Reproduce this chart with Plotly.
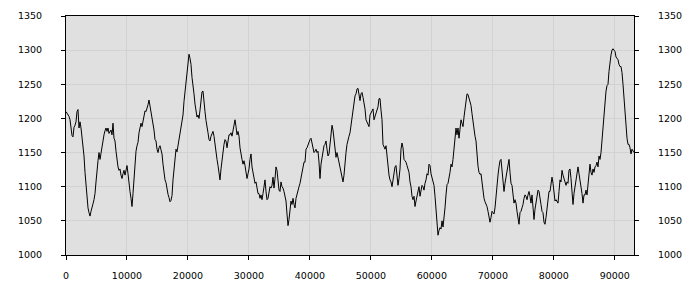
import plotly.graph_objects as go

SAMPLE_STEP = 164  # spacing between samples on the x axis

values = [
    1210, 1208, 1206, 1203, 1198, 1188, 1175, 1173, 1187, 1190, 1195, 1210, 1213, 1186, 1195, 1186,
    1174, 1162, 1145, 1121, 1100, 1088, 1069, 1062, 1057, 1064, 1068, 1075, 1081, 1090, 1107, 1131,
    1138, 1150, 1140, 1149, 1160, 1167, 1176, 1182, 1186, 1181, 1186, 1178, 1181, 1183, 1176, 1193,
    1171, 1167, 1152, 1138, 1129, 1124, 1126, 1117, 1112, 1119, 1124, 1117, 1126, 1131, 1119, 1102,
    1093, 1083, 1071, 1090, 1112, 1133, 1152, 1160, 1165, 1179, 1189, 1193, 1188, 1197, 1201, 1211,
    1210, 1214, 1220, 1227, 1219, 1211, 1198, 1191, 1183, 1169, 1167, 1155, 1150, 1157, 1160, 1154,
    1148, 1133, 1117, 1110, 1106, 1095, 1089, 1084, 1078, 1080, 1087, 1110, 1129, 1148, 1155, 1151,
    1160, 1170, 1181, 1190, 1199, 1205, 1225, 1240, 1255, 1274, 1286, 1294, 1288, 1279, 1260, 1250,
    1236, 1221, 1212, 1202, 1205, 1200, 1212, 1233, 1239, 1240, 1229, 1210, 1197, 1183,
    # segment 2
    1179, 1169, 1167, 1174, 1179, 1181, 1174, 1162, 1145, 1140, 1131, 1119, 1110, 1126, 1140, 1148,
    1162, 1169, 1167, 1157, 1167, 1176, 1176, 1179, 1174, 1181, 1186, 1198, 1188, 1176, 1181, 1174,
    1157, 1145, 1140, 1133, 1138, 1131, 1119, 1112, 1119, 1126, 1140, 1148, 1129, 1119, 1110, 1105,
    1107, 1100, 1090, 1090, 1083, 1088, 1081, 1090, 1102, 1110, 1093, 1081, 1083, 1090, 1100, 1098,
    1102, 1114, 1098, 1112, 1129, 1124, 1110, 1095, 1093, 1107, 1100, 1098, 1093, 1086, 1079, 1060,
    1043, 1052, 1064, 1079, 1074, 1083, 1074, 1069, 1083, 1090, 1095, 1100, 1105, 1112, 1124, 1131,
    1136, 1136, 1155, 1157, 1162, 1164, 1169, 1171, 1162, 1157, 1150, 1152, 1155, 1150, 1152, 1136,
    1112, 1133, 1145, 1157, 1160, 1162, 1167, 1155, 1145, 1148, 1164, 1186, 1190, 1183, 1169, 1150,
    1143, 1150, 1143, 1140, 1129, 1126, 1117, 1107, 1117, 1138, 1150, 1162, 1171, 1174,
    # segment 3
    1179, 1190, 1207, 1214, 1224, 1233, 1236, 1243, 1244, 1233, 1226, 1236, 1238, 1231, 1224, 1214,
    1198, 1195, 1193, 1188, 1205, 1208, 1211, 1214, 1198, 1202, 1207, 1212, 1217, 1229, 1229, 1212,
    1198, 1162, 1157, 1155, 1160, 1145, 1121, 1117, 1110, 1107, 1100, 1112, 1124, 1129, 1131, 1110,
    1102, 1112, 1126, 1155, 1164, 1157, 1140, 1138, 1136, 1131, 1126, 1121, 1107, 1100, 1086, 1081,
    1086, 1071, 1079, 1086, 1093, 1100, 1086, 1095, 1102, 1100, 1095, 1105, 1110, 1119, 1117, 1133,
    1131, 1119, 1114, 1110, 1102, 1086, 1064, 1048, 1029, 1036, 1040, 1038, 1050, 1041, 1052, 1069,
    1088, 1103, 1105, 1112, 1121, 1133, 1129, 1140, 1155, 1171, 1186, 1176, 1186, 1171, 1188, 1198,
    1193, 1188, 1202, 1214, 1225, 1236, 1235, 1229, 1224, 1219, 1207, 1195, 1181, 1174, 1167, 1145,
    1130, 1121, 1118, 1119, 1107, 1090, 1083, 1078, 1075, 1071, 1064, 1052, 1048, 1055,
    # segment 4
    1064, 1062, 1060, 1069, 1090, 1105, 1117, 1129, 1138, 1140, 1121, 1107, 1093, 1105, 1114, 1119,
    1126, 1140, 1121, 1105, 1102, 1090, 1076, 1081, 1076, 1064, 1057, 1045, 1062, 1064, 1069, 1074,
    1083, 1088, 1086, 1081, 1088, 1093, 1086, 1076, 1088, 1071, 1052, 1067, 1079, 1090, 1095, 1093,
    1086, 1074, 1064, 1062, 1048, 1045, 1055, 1071, 1083, 1093, 1093, 1102, 1114, 1105, 1090, 1079,
    1081, 1079, 1076, 1093, 1110, 1107, 1124, 1117, 1112, 1110, 1102, 1107, 1105, 1124, 1126, 1112,
    1093, 1074, 1090, 1102, 1110, 1117, 1129, 1119, 1110, 1100, 1090, 1076, 1088, 1088, 1095, 1088,
    1107, 1114, 1133, 1121, 1117, 1126, 1121, 1129, 1131, 1136, 1129, 1145, 1140, 1150, 1169, 1183,
    1195, 1221, 1240, 1248, 1250, 1269, 1288, 1293, 1300, 1302, 1300, 1298, 1290, 1288, 1286, 1279,
    1276, 1276, 1267, 1250, 1226, 1207, 1188, 1171, 1162, 1162, 1157, 1148, 1155, 1152, 1150,
]

x_tick_values = [0, 10000, 20000, 30000, 40000, 50000, 60000, 70000, 80000, 90000]
y_tick_values = [1000, 1050, 1100, 1150, 1200, 1250, 1300, 1350]
x_range = [0, 93152]
y_range = [1000, 1350]

x_values = [i * SAMPLE_STEP for i in range(len(values))]

FONT = dict(family="DejaVu Sans", size=9.5, color="#000000")
GRID = "#d2d2d2"

fig = go.Figure()
fig.add_trace(go.Scatter(
    x=x_values, y=values, mode="lines",
    line=dict(color="#000000", width=1),
    hoverinfo="skip", showlegend=False,
))

fig.update_layout(
    width=700, height=300,
    margin=dict(l=66, r=66, t=10, b=45),
    paper_bgcolor="#ffffff",
    plot_bgcolor="#e0e0e0",
    font=FONT,
    showlegend=False,
    xaxis=dict(
        range=x_range, tickvals=x_tick_values, tickformat="d",
        showgrid=True, gridcolor=GRID, gridwidth=1, zeroline=False,
        showline=True, linecolor="#000000", linewidth=1, mirror=True,
        ticks="outside", ticklen=4, tickcolor="#000000",
        ticklabelstandoff=8, tickfont=FONT,
    ),
    yaxis=dict(
        range=y_range, tickvals=y_tick_values,
        showgrid=True, gridcolor=GRID, gridwidth=1, zeroline=False,
        showline=True, linecolor="#000000", linewidth=1, mirror=True,
        ticks="outside", ticklen=4, tickcolor="#000000",
        ticklabelstandoff=17, tickfont=FONT,
    ),
    yaxis2=dict(
        range=y_range, tickvals=y_tick_values, overlaying="y", side="right",
        anchor="x", showgrid=False, zeroline=False, showline=False,
        ticks="outside", ticklen=4, tickcolor="#000000",
        ticklabelstandoff=17, tickfont=FONT,
    ),
)

fig.add_trace(go.Scatter(
    x=[x_values[0]], y=[values[0]], yaxis="y2", mode="lines",
    line=dict(width=0), hoverinfo="skip", showlegend=False, opacity=0,
))

fig.write_html("out.html")
